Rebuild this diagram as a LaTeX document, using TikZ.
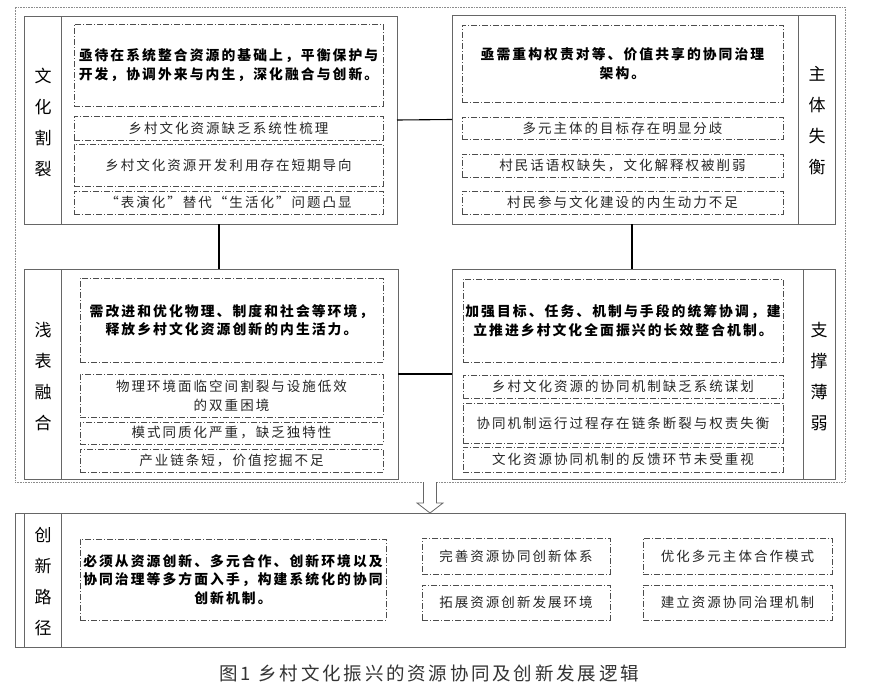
\documentclass[tikz,border=0pt]{standalone}
\usepackage{fontspec}
\newfontfamily\cjk[LetterSpace=15]{Noto Sans CJK SC}
\newfontfamily\cjklabel{Noto Sans CJK SC}
\begin{document}
\begin{tikzpicture}[x=1pt,y=-1pt,
 frame/.style={draw=black!60, line width=0.8pt, inner sep=0pt, outer sep=0pt},
 dbox/.style={draw=black!70, line width=0.7pt, dash pattern=on 6pt off 2pt on 1pt off 2pt, inner sep=0pt, outer sep=0pt, align=center, font=\cjk\fontsize{13.5}{18.5}\selectfont, text=black!85},
 bbox/.style={dbox, font=\cjk\bfseries\fontsize{13.8}{18.5}\selectfont, text=black},
 lab/.style={align=center, font=\cjklabel\fontsize{17}{31}\selectfont, inner sep=0pt},
 conn/.style={draw=black, line width=1.1pt},
]
\useasboundingbox (0,0) rectangle (871,688);
\fill[white] (0,0) rectangle (871,688);

\node[draw=black!45, dash pattern=on 0.8pt off 0.8pt, line width=0.7pt, minimum width=830pt, minimum height=475pt, inner sep=0pt, outer sep=0pt] (frame) at (430,244.5) {};

% Box 1
\node[frame, minimum width=373pt, minimum height=208pt] (b1) at (210.5,120) {};
\draw[frame] ([xshift=37pt]b1.north west) -- ([xshift=37pt]b1.south west);
\node[lab] (l1) at (43,122.5) {文\\化\\割\\裂};
\node[bbox, minimum width=309pt, minimum height=82pt] (b1a) at (228.5,65) {亟待在系统整合资源的基础上，平衡保护与\\开发，协调外来与内生，深化融合与创新。};
\node[dbox, minimum width=309pt, minimum height=24pt] (b1b) at (228.5,128) {乡村文化资源缺乏系统性梳理};
\node[dbox, minimum width=309pt, minimum height=42pt] (b1c) at (228.5,165) {乡村文化资源开发利用存在短期导向};
\node[dbox, minimum width=309pt, minimum height=23pt] (b1d) at (228.5,202.5) {“表演化”替代“生活化”问题凸显};

% Box 2
\node[frame, minimum width=383pt, minimum height=209pt] (b2) at (643.5,119.5) {};
\draw[frame] ([xshift=-37pt]b2.north east) -- ([xshift=-37pt]b2.south east);
\node[lab] (l2) at (817,121) {主\\体\\失\\衡};
\node[bbox, minimum width=321pt, minimum height=77pt] (b2a) at (622.5,63.5) {亟需重构权责对等、价值共享的协同治理\\架构。};
\node[dbox, minimum width=321pt, minimum height=22pt] (b2b) at (622.5,128) {多元主体的目标存在明显分歧};
\node[dbox, minimum width=321pt, minimum height=23pt] (b2c) at (622.5,165.5) {村民话语权缺失，文化解释权被削弱};
\node[dbox, minimum width=321pt, minimum height=23pt] (b2d) at (622.5,202.5) {村民参与文化建设的内生动力不足};

% Box 3
\node[frame, minimum width=374pt, minimum height=210pt] (b3) at (211,374) {};
\draw[frame] ([xshift=37pt]b3.north west) -- ([xshift=37pt]b3.south west);
\node[lab] (l3) at (43,377) {浅\\表\\融\\合};
\node[bbox, minimum width=303pt, minimum height=84pt] (b3a) at (231.5,320) {需改进和优化物理、制度和社会等环境，\\释放乡村文化资源创新的内生活力。};
\node[dbox, minimum width=303pt, minimum height=43pt, font=\cjk\fontsize{13.5}{19}\selectfont] (b3b) at (231.5,395.5) {物理环境面临空间割裂与设施低效\\的双重困境};
\node[dbox, minimum width=303pt, minimum height=22pt] (b3c) at (231.5,433) {模式同质化严重，缺乏独特性};
\node[dbox, minimum width=303pt, minimum height=23pt] (b3d) at (231.5,460.5) {产业链条短，价值挖掘不足};

% Box 4
\node[frame, minimum width=383pt, minimum height=210pt] (b4) at (643.5,374) {};
\draw[frame] ([xshift=-32pt]b4.north east) -- ([xshift=-32pt]b4.south east);
\node[lab] (l4) at (819,376.5) {支\\撑\\薄\\弱};
\node[bbox, minimum width=320pt, minimum height=83pt] (b4a) at (623,320.5) {加强目标、任务、机制与手段的统筹协调，建\\立推进乡村文化全面振兴的长效整合机制。};
\node[dbox, minimum width=320pt, minimum height=23pt] (b4b) at (623,386.5) {乡村文化资源的协同机制缺乏系统谋划};
\node[dbox, minimum width=320pt, minimum height=40pt] (b4c) at (623,423) {协同机制运行过程存在链条断裂与权责失衡};
\node[dbox, minimum width=320pt, minimum height=25pt] (b4d) at (623,459.5) {文化资源协同机制的反馈环节未受重视};

% connectors
\draw[conn] (b1.east) -- (b2.west);
\draw[conn] (b3.east) -- (b4.west);
\draw[conn] ([xshift=8.5pt]b1.south) -- ([xshift=8.5pt]b1.south |- b3.north);
\draw[conn] ([xshift=-11.5pt]b2.south) -- ([xshift=-11.5pt]b2.south |- b4.north);

% Bottom box
\node[frame, minimum width=830pt, minimum height=134pt] (bot) at (430,580) {};
\draw[frame] ([xshift=9pt]bot.north west) -- ([xshift=9pt]bot.south west);
\draw[frame] ([xshift=46pt]bot.north west) -- ([xshift=46pt]bot.south west);
\node[lab] (l5) at (43,581.75) {创\\新\\路\\径};
\node[bbox, minimum width=306pt, minimum height=81pt] (ba) at (233,579.5) {必须从资源创新、多元合作、创新环境以及\\协同治理等多方面入手，构建系统化的协同\\创新机制。};
\node[dbox, minimum width=188pt, minimum height=36pt] (bb) at (516,556) {完善资源协同创新体系};
\node[dbox, minimum width=189pt, minimum height=36pt] (bc) at (737.5,556) {优化多元主体合作模式};
\node[dbox, minimum width=188pt, minimum height=35pt] (bd) at (516,602.5) {拓展资源创新发展环境};
\node[dbox, minimum width=189pt, minimum height=35pt] (be) at (737.5,602.5) {建立资源协同治理机制};

% hollow arrow
\draw[draw=black!60, fill=white, line width=0.8pt, line join=miter]
  ([xshift=-6.5pt]frame.south) -- ++(0,21) -- ++(-6.5,0) -- (bot.north)
  -- ++(13,-10) -- ++(-6.5,0) -- ([xshift=6.5pt]frame.south);

% caption
\node[font=\cjk\fontsize{18.5}{20}\selectfont, text=black!80, inner sep=0pt] (cap) at (429,673) {图1\hspace{8pt}乡村文化振兴的资源协同及创新发展逻辑};
\end{tikzpicture}
\end{document}
